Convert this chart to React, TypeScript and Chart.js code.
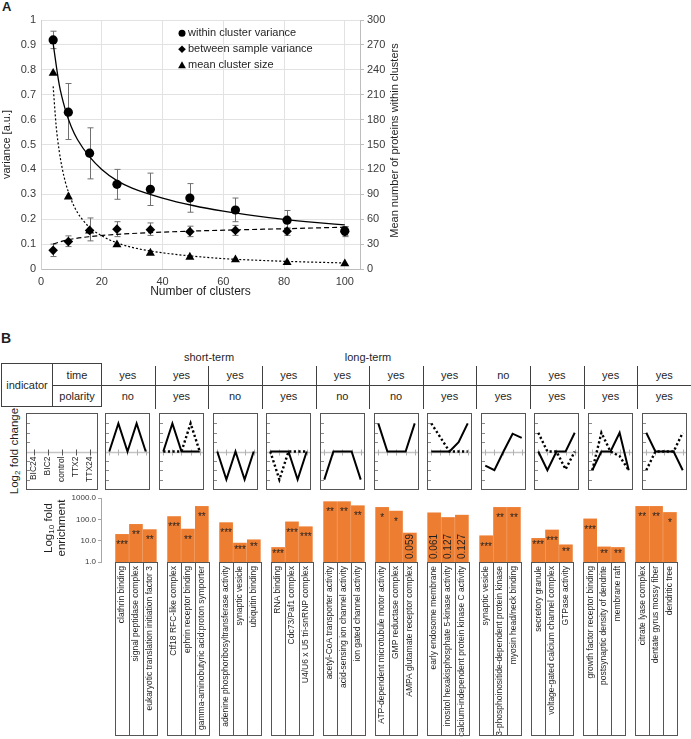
import React, { useEffect, useRef } from 'react';
import { Chart, registerables } from 'chart.js';

Chart.register(...registerables);

const FONT = '"Liberation Sans", Arial, Helvetica, sans-serif';
const INK = '#1f1f1f';
const AXIS_INK = '#3a3a3a';
const ORANGE = '#ED7D31';
const LINE = '#404040';

// ---------------- Panel A data ----------------
const clusterCounts = [4, 9, 16, 25, 36, 49, 64, 81, 100];
const withinVariance = [0.92, 0.63, 0.465, 0.34, 0.32, 0.285, 0.237, 0.196, 0.153];
const withinLow = [0.885, 0.52, 0.362, 0.28, 0.255, 0.228, 0.19, 0.163, 0.135];
const withinHigh = [0.955, 0.745, 0.567, 0.4, 0.385, 0.343, 0.285, 0.235, 0.17];
const betweenVariance = [0.075, 0.11, 0.155, 0.16, 0.158, 0.15, 0.155, 0.152, 0.15];
const betweenLow = [0.05, 0.09, 0.113, 0.13, 0.135, 0.13, 0.135, 0.135, 0.13];
const betweenHigh = [0.1, 0.133, 0.205, 0.19, 0.185, 0.172, 0.175, 0.165, 0.17];
const meanClusterSize = [236, 87, 46, 29.3, 19.2, 14.4, 11.2, 8, 6.4];

const withinTrendX = [4, 6, 8, 10, 12, 16, 20, 25, 30, 40, 50, 60, 70, 80, 90, 100];
const withinTrendY = [0.905, 0.74, 0.64, 0.57, 0.52, 0.45, 0.4, 0.355, 0.325, 0.285, 0.255, 0.232, 0.214, 0.199, 0.187, 0.177];
const betweenTrendX = [4, 8, 16, 25, 36, 49, 64, 81, 100];
const betweenTrendY = [0.1, 0.115, 0.13, 0.139, 0.146, 0.152, 0.157, 0.162, 0.168];
const sizeTrendX = [4, 5, 6, 7, 8, 10, 12, 14, 16, 20, 25, 30, 40, 50, 60, 70, 80, 90, 100];
const sizeTrendY = [220, 172, 142, 121, 105, 83, 68, 58, 50, 40, 31.5, 26, 19.5, 15.5, 12.5, 10.7, 9.3, 8.2, 7.3];

const xTicksA = [0, 20, 40, 60, 80, 100];
const legendLabelsA = ['within cluster variance', 'between sample variance', 'mean cluster size'];
const xTitleA = 'Number of clusters';
const yTitleA = 'variance [a.u.]';
const y2TitleA = 'Mean number of proteins within clusters';

// ---------------- Panel B data ----------------
const phaseLabels = ['short-term', 'long-term'];
const conditions = ['BIC24', 'BIC2', 'control', 'TTX2', 'TTX24'];
const timeIndicator = ['yes', 'yes', 'yes', 'yes', 'yes', 'yes', 'yes', 'no', 'yes', 'yes', 'yes'];
const polarityIndicator = ['no', 'yes', 'no', 'yes', 'no', 'no', 'yes', 'yes', 'yes', 'yes', 'yes'];

const foldSolid = [
  [0, 3, 0, 3, 0],
  [0, 3, 0, 0, 0],
  [0, -3, 0, -3, 0],
  [0, 0, 0, -3, 0],
  [-3, 0, 0, 0, -3],
  [3, 0, 0, 0, 3],
  [0, 0, 0, 1, 3],
  [-1.5, -2, 0, 1.9, 1.45],
  [0, -2, 0, 0, 2],
  [-2, 0, 0, 2, -2],
  [2, 0, 0, 0, -2],
];
const foldDotted = [
  null,
  [0, 0, 0, 3, 0],
  null,
  [0, -3, 0, 0, 0],
  null,
  null,
  [3, 1.5, 0, 0, 0],
  null,
  [2, 0, 0, -1.9, 0],
  [-2, 2, 0, -0.5, -2],
  [-2, 0, 0, 0, 2],
];
const foldTicks = [-3, -2, -1, 1, 2, 3];

const terms = [
  'clathrin binding', 'signal peptidase complex', 'eukaryotic translation initiation factor 3',
  'Ctf18 RFC-like complex', 'ephrin receptor binding', 'gamma-aminobutyric acid:proton symporter',
  'adenine phosphoribosyltransferase activity', 'synaptic vesicle', 'ubiquitin binding',
  'RNA binding', 'Cdc73/Paf1 complex', 'U4/U6 x U5 tri-snRNP complex',
  'acetyl-CoA transporter activity', 'acid-sensing ion channel activity', 'ion gated channel activity',
  'ATP-dependent microtubule motor activity', 'GMP reductase complex', 'AMPA glutamate receptor complex',
  'early endosome membrane', 'inositol hexakisphosphate 5-kinase activity', 'calcium-independent protein kinase C activity',
  'synaptic vesicle', '3-phosphoinositide-dependent protein kinase', 'myosin head/neck binding',
  'secretory granule', 'voltage-gated calcium channel complex', 'GTPase activity',
  'growth factor receptor binding', 'postsynaptic density of dendrite', 'membrane raft',
  'citrate lyase complex', 'dentate gyrus mossy fiber', 'dendritic tree',
];
const enrichment = [
  19.7, 58, 33,
  135, 35, 404,
  70, 7.7, 11,
  4.8, 76, 45,
  673, 673, 435,
  363, 243, 22.8,
  202, 122, 157,
  17, 363, 363,
  12.8, 31.7, 6.4,
  105, 5.1, 4.8,
  404, 404, 210,
];
const significance = [
  '***', '**', '**',
  '***', '**', '**',
  '***', '***', '**',
  '***', '***', '***',
  '**', '**', '**',
  '*', '*', '0.059',
  '0.061', '0.127', '0.127',
  '***', '**', '**',
  '***', '***', '**',
  '***', '**', '**',
  '**', '**', '*',
];
const enrichTicks = [1, 10, 100, 1000];

// layout constants (positions only)
const GRID_LEFT = 101;
const COL_W = 53.64;
const SLOT = 0.2667; // bar slot width in column units
const colCenter = (c: number) => GRID_LEFT + (c + 0.5) * COL_W;

const pts = (xs: number[], ys: number[]) => xs.map((x, i) => ({ x, y: ys[i] }));

// ---------------- Panel A ----------------
function PanelA() {
  const ref = useRef<HTMLCanvasElement>(null);
  useEffect(() => {
    const errorBars = {
      id: 'errorBarsA',
      beforeDatasetsDraw(chart: any) {
        const { ctx, scales } = chart;
        const x = scales.x, y = scales.y;
        ctx.save();
        ctx.strokeStyle = '#707070';
        ctx.lineWidth = 1;
        const draw = (lo: number[], hi: number[]) => {
          lo.forEach((l, i) => {
            const px = Math.round(x.getPixelForValue(clusterCounts[i])) + 0.5;
            const y1 = y.getPixelForValue(l);
            const y2 = y.getPixelForValue(hi[i]);
            ctx.beginPath();
            ctx.moveTo(px, y1); ctx.lineTo(px, y2);
            ctx.moveTo(px - 3, y1); ctx.lineTo(px + 3, y1);
            ctx.moveTo(px - 3, y2); ctx.lineTo(px + 3, y2);
            ctx.stroke();
          });
        };
        draw(withinLow, withinHigh);
        draw(betweenLow, betweenHigh);
        ctx.restore();
      },
    };
    const extras = {
      id: 'extrasA',
      afterDraw(chart: any) {
        const { ctx, chartArea: a } = chart;
        ctx.save();
        ctx.fillStyle = '#000';
        ctx.font = `11px ${FONT}`;
        ctx.textBaseline = 'middle';
        ctx.textAlign = 'left';
        legendLabelsA.forEach((lab, i) => {
          const mx = a.left + 141, my = a.top + 13.3 + i * 16;
          ctx.beginPath();
          if (i === 0) ctx.arc(mx, my, 3.5, 0, Math.PI * 2);
          else if (i === 1) {
            ctx.moveTo(mx, my - 3.8); ctx.lineTo(mx + 3.8, my); ctx.lineTo(mx, my + 3.8); ctx.lineTo(mx - 3.8, my); ctx.closePath();
          } else {
            ctx.moveTo(mx, my - 4); ctx.lineTo(mx + 3.9, my + 3); ctx.lineTo(mx - 3.9, my + 3); ctx.closePath();
          }
          ctx.fill();
          ctx.fillStyle = INK;
          ctx.fillText(lab, mx + 6, my);
          ctx.fillStyle = '#000';
        });
        // right axis title (reads bottom-to-top)
        ctx.translate(a.right + 35, (a.top + a.bottom) / 2 - 4);
        ctx.rotate(-Math.PI / 2);
        ctx.textAlign = 'center';
        ctx.fillStyle = INK;
        ctx.fillText(y2TitleA, 0, 0);
        ctx.restore();
      },
    };
    const black = '#000';
    const chart = new Chart(ref.current as HTMLCanvasElement, {
      type: 'scatter',
      data: {
        datasets: [
          { label: legendLabelsA[0], data: pts(clusterCounts, withinVariance), pointStyle: 'circle', pointRadius: 4.6, backgroundColor: black, borderColor: black, borderWidth: 0, yAxisID: 'y' },
          { label: legendLabelsA[1], data: pts(clusterCounts, betweenVariance), pointStyle: 'rectRot', pointRadius: 4.8, backgroundColor: black, borderColor: black, borderWidth: 0, yAxisID: 'y' },
          { label: legendLabelsA[2], data: pts(clusterCounts, meanClusterSize), pointStyle: 'triangle', pointRadius: 5.2, backgroundColor: black, borderColor: black, borderWidth: 0, yAxisID: 'y2' },
          { data: pts(withinTrendX, withinTrendY), showLine: true, pointRadius: 0, borderColor: black, borderWidth: 1.3, cubicInterpolationMode: 'monotone', yAxisID: 'y' },
          { data: pts(betweenTrendX, betweenTrendY), showLine: true, pointRadius: 0, borderColor: black, borderWidth: 1.2, borderDash: [5, 3], cubicInterpolationMode: 'monotone', yAxisID: 'y' },
          { data: pts(sizeTrendX, sizeTrendY), showLine: true, pointRadius: 0, borderColor: black, borderWidth: 1.2, borderDash: [2, 2], cubicInterpolationMode: 'monotone', yAxisID: 'y2' },
        ],
      } as any,
      options: {
        animation: false,
        responsive: false,
        events: [],
        layout: { padding: { left: 0, right: 286, top: 20, bottom: 9 } },
        plugins: { legend: { display: false }, tooltip: { enabled: false } },
        scales: {
          x: {
            type: 'linear', min: 0, max: 105,
            afterBuildTicks: (s: any) => { s.ticks = xTicksA.map((v) => ({ value: v })); },
            afterFit: (s: any) => { s.height = 32; },
            grid: { color: '#e2e2e2', drawTicks: false },
            border: { color: '#bdbdbd' },
            ticks: { padding: 6, color: AXIS_INK, font: { family: FONT, size: 11 } },
            title: { display: true, text: xTitleA, color: INK, font: { family: FONT, size: 12 }, padding: { top: 0, bottom: 2 } },
          },
          y: {
            type: 'linear', position: 'left', min: 0, max: 1,
            afterFit: (s: any) => { s.width = 41; },
            grid: { color: '#e2e2e2', drawTicks: false },
            border: { color: '#d0d0d0' },
            ticks: { stepSize: 0.1, padding: 5, color: AXIS_INK, font: { family: FONT, size: 11 }, callback: (v: any) => String(Math.round(Number(v) * 10) / 10) },
            title: { display: true, text: yTitleA, color: INK, font: { family: FONT, size: 11 }, padding: 0 },
          },
          y2: {
            type: 'linear', position: 'right', min: 0, max: 300,
            afterFit: (s: any) => { s.width = 45; },
            grid: { drawOnChartArea: false, color: '#bdbdbd', tickLength: 4 },
            border: { color: '#bdbdbd' },
            ticks: { stepSize: 30, padding: 3, color: AXIS_INK, font: { family: FONT, size: 11 } },
          },
        },
      } as any,
      plugins: [errorBars, extras],
    });
    return () => chart.destroy();
  }, []);
  return <canvas ref={ref} width={691} height={310} style={{ position: 'absolute', left: 0, top: 0, width: 691, height: 310 }} />;
}

// ---------------- Fold change mini charts ----------------
function FoldBox({ left, width, solid, dotted, labelled }: any) {
  const ref = useRef<HTMLCanvasElement>(null);
  useEffect(() => {
    const pad = labelled ? 0.5 : 0.36;
    const datasets: any[] = [];
    if (solid) datasets.push({ data: solid.map((v: number, k: number) => ({ x: k, y: v })), showLine: true, pointRadius: 0, borderColor: '#000', borderWidth: 2 });
    if (dotted) datasets.push({ data: dotted.map((v: number, k: number) => ({ x: k, y: v })), showLine: true, pointRadius: 0, borderColor: '#000', borderWidth: 2.4, borderDash: [2.2, 2.4] });
    const deco = {
      id: 'foldDeco',
      beforeDatasetsDraw(chart: any) {
        const { ctx, chartArea: a, scales } = chart;
        const xs = scales.x, ys = scales.y;
        const y0 = Math.round(ys.getPixelForValue(0)) + 0.5;
        ctx.save();
        ctx.strokeStyle = '#c4c4c4';
        ctx.lineWidth = 1.6;
        ctx.beginPath(); ctx.moveTo(a.left, y0); ctx.lineTo(a.right, y0); ctx.stroke();
        ctx.lineWidth = 1;
        ctx.strokeStyle = labelled ? '#555' : '#b0b0b0';
        conditions.forEach((_c, k) => {
          const px = Math.round(xs.getPixelForValue(k)) + 0.5;
          ctx.beginPath(); ctx.moveTo(px, y0 - 3); ctx.lineTo(px, y0 + 3); ctx.stroke();
        });
        ctx.strokeStyle = '#8a8a8a';
        foldTicks.forEach((v) => {
          const py = Math.round(ys.getPixelForValue(v)) + 0.5;
          ctx.beginPath(); ctx.moveTo(a.left, py); ctx.lineTo(a.left + 3, py); ctx.stroke();
        });
        if (labelled) {
          ctx.fillStyle = INK;
          ctx.font = `8.5px ${FONT}`;
          ctx.textAlign = 'right';
          ctx.textBaseline = 'middle';
          conditions.forEach((c, k) => {
            ctx.save();
            ctx.translate(xs.getPixelForValue(k), y0 + 4);
            ctx.rotate(-Math.PI / 2);
            ctx.fillText(c, 0, 0);
            ctx.restore();
          });
        }
        ctx.restore();
      },
      afterDraw(chart: any) {
        const { ctx, chartArea: a } = chart;
        ctx.save();
        ctx.strokeStyle = '#555';
        ctx.lineWidth = 1;
        ctx.strokeRect(Math.round(a.left) - 0.5, Math.round(a.top) - 0.5, Math.round(a.right - a.left) + 1, Math.round(a.bottom - a.top) + 1);
        ctx.restore();
      },
    };
    const chart = new Chart(ref.current as HTMLCanvasElement, {
      type: 'scatter',
      data: { datasets },
      options: {
        animation: false,
        responsive: false,
        events: [],
        layout: { padding: 1 },
        plugins: { legend: { display: false }, tooltip: { enabled: false } },
        scales: {
          x: { type: 'linear', display: false, min: -pad, max: 4 + pad },
          y: { type: 'linear', display: false, min: -4, max: 4 },
        },
      } as any,
      plugins: [deco],
    });
    return () => chart.destroy();
  }, []);
  return <canvas ref={ref} width={width} height={77} style={{ position: 'absolute', left, top: 413, width, height: 77 }} />;
}

// ---------------- Enrichment bars ----------------
const barPos = (i: number) => Math.floor(i / 3) + ((i % 3) - 1) * SLOT;

function EnrichmentChart() {
  const ref = useRef<HTMLCanvasElement>(null);
  useEffect(() => {
    const deco = {
      id: 'enrichDeco',
      afterDatasetsDraw(chart: any) {
        const { ctx } = chart;
        const meta = chart.getDatasetMeta(0);
        ctx.save();
        ctx.fillStyle = INK;
        meta.data.forEach((bar: any, i: number) => {
          const lab = significance[i];
          const { x, y, base } = bar.getProps(['x', 'y', 'base'], true);
          if (lab.startsWith('*')) {
            ctx.font = `10px ${FONT}`;
            ctx.textAlign = 'center';
            ctx.textBaseline = 'middle';
            ctx.fillText(lab, x, y + (base - y > 25 ? 11 : 7));
          } else {
            ctx.save();
            ctx.font = `10px ${FONT}`;
            ctx.textAlign = 'left';
            ctx.textBaseline = 'middle';
            ctx.translate(x, base - 3);
            ctx.rotate(-Math.PI / 2);
            ctx.fillText(lab, 0, 0);
            ctx.restore();
          }
        });
        ctx.restore();
      },
      afterDraw(chart: any) {
        const { ctx, chartArea: a, scales } = chart;
        const xs = scales.x;
        const slotPx = xs.getPixelForValue(SLOT) - xs.getPixelForValue(0);
        const groups = terms.length / 3;
        ctx.save();
        ctx.strokeStyle = '#555';
        ctx.lineWidth = 1;
        const top = Math.round(a.bottom) + 0.5;
        const bot = top + 173;
        for (let c = 0; c < groups; c++) {
          const cx = xs.getPixelForValue(c);
          const l = Math.round(cx - 1.5 * slotPx) + 0.5;
          const r = Math.round(cx + 1.5 * slotPx) + 0.5;
          ctx.strokeRect(l, top, r - l, bot - top);
          for (let j = 1; j < 3; j++) {
            const vx = Math.round(cx - 1.5 * slotPx + j * slotPx) + 0.5;
            ctx.beginPath(); ctx.moveTo(vx, top); ctx.lineTo(vx, bot); ctx.stroke();
          }
        }
        ctx.restore();
      },
    };
    const chart = new Chart(ref.current as HTMLCanvasElement, {
      type: 'bar',
      data: {
        datasets: [{ data: enrichment.map((v, i) => ({ x: barPos(i), y: v })), backgroundColor: ORANGE, borderWidth: 0, barThickness: 13 }],
      } as any,
      options: {
        animation: false,
        responsive: false,
        events: [],
        layout: { padding: { left: 40, right: 0, top: 8, bottom: 0 } },
        plugins: { legend: { display: false }, tooltip: { enabled: false } },
        scales: {
          x: {
            type: 'linear', min: -0.5, max: 10.5,
            afterBuildTicks: (s: any) => { s.ticks = terms.map((_t, i) => ({ value: barPos(i) })); },
            afterFit: (s: any) => { s.height = 177; },
            grid: { display: false, drawTicks: false },
            border: { display: false },
            ticks: {
              autoSkip: false, minRotation: 90, maxRotation: 90, padding: 4,
              color: INK, font: { family: FONT, size: 8.5 },
              callback: (_v: any, i: number) => terms[i],
            },
          },
          y: {
            type: 'logarithmic', min: 1, max: 1000,
            afterBuildTicks: (s: any) => { s.ticks = enrichTicks.map((v) => ({ value: v })); },
            afterFit: (s: any) => { s.width = 61; },
            grid: { drawOnChartArea: false, tickLength: 3, color: '#a6a6a6' },
            border: { color: '#a6a6a6' },
            ticks: { padding: 2, color: AXIS_INK, font: { family: FONT, size: 8 }, callback: (v: any) => Number(v).toFixed(1) },
          },
        },
      } as any,
      plugins: [deco],
    });
    return () => chart.destroy();
  }, []);
  return <canvas ref={ref} width={691} height={249} style={{ position: 'absolute', left: 0, top: 490, width: 691, height: 249 }} />;
}

// ---------------- Table / texts ----------------
function CText({ cx, cy, children, size = 11, w = 90 }: any) {
  return (
    <div style={{ position: 'absolute', left: cx - w / 2, top: cy - 7, width: w, height: 14, lineHeight: '14px', textAlign: 'center', fontSize: size, whiteSpace: 'nowrap', color: INK }}>
      {children}
    </div>
  );
}

function IndicatorTable() {
  const cols = timeIndicator.map((_t, c) => c);
  return (
    <>
      <CText cx={209} cy={357}>{phaseLabels[0]}</CText>
      <CText cx={368} cy={357}>{phaseLabels[1]}</CText>
      <div style={{ position: 'absolute', left: 1, top: 363, width: 101, height: 44, border: `1px solid ${LINE}`, boxSizing: 'border-box' }} />
      <div style={{ position: 'absolute', left: 52, top: 363, width: 1, height: 44, background: LINE }} />
      <div style={{ position: 'absolute', left: 52, top: 385, width: 639, height: 1, background: LINE }} />
      {cols.map((c) => (
        <div key={'sep' + c} style={{ position: 'absolute', left: Math.round(GRID_LEFT + (c + 1) * COL_W), top: 366, width: 1, height: 43, background: LINE }} />
      ))}
      <CText cx={27} cy={385}>indicator</CText>
      <CText cx={77} cy={375}>time</CText>
      <CText cx={77} cy={396}>polarity</CText>
      {cols.map((c) => (
        <CText key={'t' + c} cx={colCenter(c)} cy={375}>{timeIndicator[c]}</CText>
      ))}
      {cols.map((c) => (
        <CText key={'p' + c} cx={colCenter(c)} cy={396}>{polarityIndicator[c]}</CText>
      ))}
    </>
  );
}

function RotLabel({ cx, cy, w, h, children, size = 11.5 }: any) {
  return (
    <div style={{ position: 'absolute', left: cx - w / 2, top: cy - h / 2, width: w, height: h, lineHeight: '12.5px', fontSize: size, textAlign: 'center', whiteSpace: 'nowrap', transform: 'rotate(-90deg)', transformOrigin: 'center center', color: INK }}>
      {children}
    </div>
  );
}

export default function App() {
  const subStyle: any = { fontSize: '0.7em', verticalAlign: 'baseline', position: 'relative', top: '0.3em', lineHeight: 0 };
  return (
    <div style={{ position: 'absolute', left: 0, top: 0, width: 691, height: 739, overflow: 'hidden', background: '#fff', fontFamily: FONT, color: INK }}>
      <div style={{ position: 'absolute', left: 2, top: 0, fontSize: 13, fontWeight: 'bold', lineHeight: '14px' }}>A</div>
      <PanelA />
      <div style={{ position: 'absolute', left: 1, top: 331, fontSize: 14, fontWeight: 'bold', lineHeight: '15px' }}>B</div>
      <IndicatorTable />
      <RotLabel cx={15} cy={451} w={110} h={14}>
        Log<span style={subStyle}>2</span> fold change
      </RotLabel>
      <FoldBox left={26} width={72} solid={null} dotted={null} labelled={true} />
      {foldSolid.map((s, c) => (
        <FoldBox key={c} left={colCenter(c) - 22.5} width={45} solid={s} dotted={foldDotted[c]} labelled={false} />
      ))}
      <RotLabel cx={55} cy={528} w={90} h={26}>
        <div>Log<span style={subStyle}>10</span> fold</div>
        <div>enrichment</div>
      </RotLabel>
      <EnrichmentChart />
    </div>
  );
}
